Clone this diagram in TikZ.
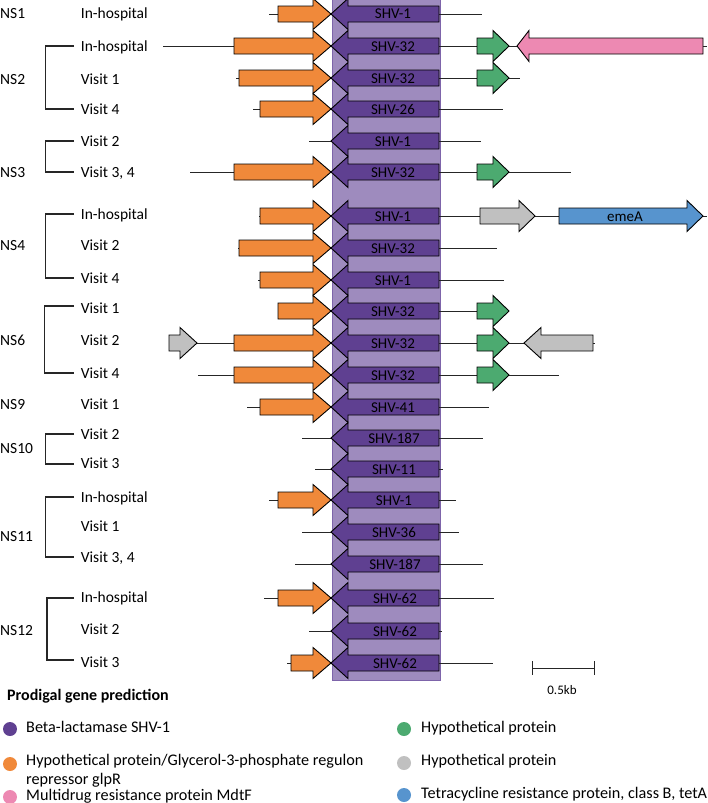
\documentclass[tikz,border=0pt]{standalone}
\usepackage{fontspec}
\setmainfont{Carlito}
\usepackage{tikz}
\usetikzlibrary{positioning,calc}
\definecolor{ShvPurple}{RGB}{95,64,145}
\definecolor{ShvBand}{RGB}{158,139,190}
\definecolor{BandEdge}{RGB}{125,100,170}
\definecolor{GlpOrange}{RGB}{240,137,58}
\definecolor{HypGreen}{RGB}{76,170,112}
\definecolor{HypGray}{RGB}{192,192,192}
\definecolor{MdtPink}{RGB}{237,137,178}
\definecolor{TetBlue}{RGB}{87,148,206}
\tikzset{
  gene/.style={draw=black,line width=0.9pt,line join=miter},
  shv/.style={gene,fill=ShvPurple},
  glp/.style={gene,fill=GlpOrange},
  hypg/.style={gene,fill=HypGreen},
  hypy/.style={gene,fill=HypGray},
  mdt/.style={gene,fill=MdtPink},
  tet/.style={gene,fill=TetBlue},
  bb/.style={draw=black!85,line width=0.9pt},
  brk/.style={draw=black!85,line width=1.1pt},
  lab/.style={inner sep=0pt,anchor=base west,font=\fontsize{15.5}{18}\selectfont},
  glab/.style={inner sep=0pt,anchor=base,font=\fontsize{15}{17}\selectfont},
  leg/.style={inner sep=0pt,anchor=base west,font=\fontsize{16.2}{19}\selectfont},
  dot/.style={circle,inner sep=0pt,minimum size=14pt},
}
% right-pointing gene: style, left end, head base, tip, row
\newcommand{\rgene}[5]{\draw[#1] (#2,#5-8) -- (#3,#5-8) -- (#3,#5-15.5) -- (#4,#5)
  -- (#3,#5+15.5) -- (#3,#5+8) -- (#2,#5+8) -- cycle;}
% left-pointing gene: style, tip, head base, right end, row
\newcommand{\lgene}[5]{\draw[#1] (#2,#5) -- (#3,#5-15.5) -- (#3,#5-8) -- (#4,#5-8)
  -- (#4,#5+8) -- (#3,#5+8) -- (#3,#5+15.5) -- cycle;}
\begin{document}
\begin{tikzpicture}[x=1pt,y=-1pt]
\useasboundingbox (0,0) rectangle (708,803);
% shaded SHV column
\filldraw[fill=ShvBand,draw=BandEdge,line width=0.8pt] (332.7,-2) rectangle (440.7,680);
% backbones
\draw[bb] (269,14) -- (482,14);
\draw[bb] (163,46) -- (707,46);
\draw[bb] (236,78) -- (520,78);
\draw[bb] (253,109) -- (503,109);
\draw[bb] (309,141) -- (481,141);
\draw[bb] (190,172) -- (571,172);
\draw[bb] (259,216) -- (707,216);
\draw[bb] (238,248) -- (497,248);
\draw[bb] (258,280) -- (504,280);
\draw[bb] (278,311) -- (509,311);
\draw[bb] (169,343) -- (595,343);
\draw[bb] (198,375) -- (559,375);
\draw[bb] (247,407) -- (489,407);
\draw[bb] (302,438) -- (483,438);
\draw[bb] (315,469) -- (443,469);
\draw[bb] (269,500) -- (456,500);
\draw[bb] (302,532) -- (459,532);
\draw[bb] (295,564) -- (483,564);
\draw[bb] (264,598) -- (494,598);
\draw[bb] (309,631) -- (442,631);
\draw[bb] (287,663) -- (493,663);
% glpR genes
\rgene{glp}{278}{313}{331}{14}
\rgene{glp}{234}{313}{331}{46}
\rgene{glp}{239}{313}{331}{78}
\rgene{glp}{260}{313}{331}{109}
\rgene{glp}{234}{313}{331}{172}
\rgene{glp}{260}{313}{331}{216}
\rgene{glp}{239}{313}{331}{248}
\rgene{glp}{260}{313}{331}{280}
\rgene{glp}{278}{313}{331}{311}
\rgene{glp}{234}{313}{331}{343}
\rgene{glp}{234}{313}{331}{375}
\rgene{glp}{260}{313}{331}{407}
\rgene{glp}{278}{313}{331}{500}
\rgene{glp}{278}{313}{331}{598}
\rgene{glp}{291}{313}{331}{663}
% SHV genes
\lgene{shv}{331}{348}{439}{14}
\lgene{shv}{331}{348}{439}{46}
\lgene{shv}{331}{348}{439}{78}
\lgene{shv}{331}{348}{439}{109}
\lgene{shv}{331}{348}{439}{141}
\lgene{shv}{331}{348}{439}{172}
\lgene{shv}{331}{348}{439}{216}
\lgene{shv}{331}{348}{439}{248}
\lgene{shv}{331}{348}{439}{280}
\lgene{shv}{331}{348}{439}{311}
\lgene{shv}{331}{348}{439}{343}
\lgene{shv}{331}{348}{439}{375}
\lgene{shv}{331}{348}{439}{407}
\lgene{shv}{331}{348}{439}{438}
\lgene{shv}{331}{348}{439}{469}
\lgene{shv}{331}{348}{439}{500}
\lgene{shv}{331}{348}{439}{532}
\lgene{shv}{331}{348}{439}{564}
\lgene{shv}{331}{348}{439}{598}
\lgene{shv}{331}{348}{439}{631}
\lgene{shv}{331}{348}{439}{663}
% other genes
\rgene{hypg}{477}{493}{509}{46}
\rgene{hypg}{477}{493}{509}{78}
\rgene{hypg}{477}{493}{509}{172}
\rgene{hypg}{477}{493}{509}{311}
\rgene{hypg}{477}{493}{509}{343}
\rgene{hypg}{477}{493}{509}{375}
\lgene{mdt}{517}{529}{703}{46}
\rgene{hypy}{480}{519}{535}{216}
\rgene{tet}{559}{687}{703}{216}
\rgene{hypy}{169}{180}{197}{343}
\lgene{hypy}{524}{541}{593}{343}
\node[glab] (eme) at (625,221) {emeA};
% SHV labels
\node[glab] (s1) at (393,19) {SHV-1};
\node[glab] (s2) at (393,51) {SHV-32};
\node[glab] (s3) at (393,83) {SHV-32};
\node[glab] (s4) at (393,114) {SHV-26};
\node[glab] (s5) at (393,146) {SHV-1};
\node[glab] (s6) at (393,177) {SHV-32};
\node[glab] (s7) at (393,221) {SHV-1};
\node[glab] (s8) at (393,253) {SHV-32};
\node[glab] (s9) at (393,285) {SHV-1};
\node[glab] (s10) at (393,316) {SHV-32};
\node[glab] (s11) at (393,348) {SHV-32};
\node[glab] (s12) at (393,380) {SHV-32};
\node[glab] (s13) at (393,412) {SHV-41};
\node[glab] (s14) at (394,443) {SHV-187};
\node[glab] (s15) at (394,474) {SHV-11};
\node[glab] (s16) at (394,505) {SHV-1};
\node[glab] (s17) at (394,537) {SHV-36};
\node[glab] (s18) at (395,569) {SHV-187};
\node[glab] (s19) at (395,603) {SHV-62};
\node[glab] (s20) at (395,636) {SHV-62};
\node[glab] (s21) at (395,668) {SHV-62};
% sample labels
\node[lab] (ns1) at (0,19) {NS1};
\node[lab] (ns2) at (0,84) {NS2};
\node[lab] (ns3) at (0,177) {NS3};
\node[lab] (ns4) at (0,250) {NS4};
\node[lab] (ns6) at (0,345) {NS6};
\node[lab] (ns9) at (0,409) {NS9};
\node[lab] (ns10) at (0,453) {NS10};
\node[lab] (ns11) at (0,541) {NS11};
\node[lab] (ns12) at (0,635) {NS12};
\node[lab] (r1) at (80.7,19) {In-hospital};
\node[lab] (r2) at (80.7,51) {In-hospital};
\node[lab] (r3) at (80.7,84) {Visit 1};
\node[lab] (r4) at (80.7,114) {Visit 4};
\node[lab] (r5) at (80.7,146) {Visit 2};
\node[lab] (r6) at (80.7,177) {Visit 3, 4};
\node[lab] (r7) at (80.7,219) {In-hospital};
\node[lab] (r8) at (80.7,250) {Visit 2};
\node[lab] (r9) at (80.7,283) {Visit 4};
\node[lab] (r10) at (80.7,313) {Visit 1};
\node[lab] (r11) at (80.7,345) {Visit 2};
\node[lab] (r12) at (80.7,378) {Visit 4};
\node[lab] (r13) at (80.7,409) {Visit 1};
\node[lab] (r14) at (80.7,439) {Visit 2};
\node[lab] (r15) at (80.7,468) {Visit 3};
\node[lab] (r16) at (80.7,502) {In-hospital};
\node[lab] (r17) at (80.7,531) {Visit 1};
\node[lab] (r18) at (80.7,562) {Visit 3, 4};
\node[lab] (r19) at (80.7,602) {In-hospital};
\node[lab] (r20) at (80.7,634) {Visit 2};
\node[lab] (r21) at (80.7,667) {Visit 3};
% brackets
\draw[brk] (74,46) -- (45.7,46) -- (45.7,109) -- (74,109);
\draw[brk] (74,141) -- (45.7,141) -- (45.7,172) -- (74,172);
\draw[brk] (74,214) -- (45.7,214) -- (45.7,278) -- (74,278);
\draw[brk] (74,306) -- (44.3,306) -- (44.3,373) -- (74,373);
\draw[brk] (74,434) -- (45.7,434) -- (45.7,464) -- (74,464);
\draw[brk] (74,497) -- (45.7,497) -- (45.7,557) -- (74,557);
\draw[brk] (74,598) -- (47,598) -- (47,660) -- (74,660);
% scale bar
\coordinate (sb1) at (532,668);
\coordinate (sb2) at (594,668);
\draw[bb] (sb1) -- (sb2);
\draw[bb] ($(sb1)+(0,-7)$) -- ($(sb1)+(0,7)$);
\draw[bb] ($(sb2)+(0,-7)$) -- ($(sb2)+(0,7)$);
\node[inner sep=0pt,anchor=base,font=\fontsize{13}{15}\selectfont] (kb) at (562,694) {0.5kb};
% legend
\node[leg,font=\bfseries\fontsize{16}{18}\selectfont] (lg) at (7,700) {Prodigal gene prediction};
\node[dot,fill=ShvPurple] (d1) at (10,729) {};
\node[leg] (l1) at (26,732) {Beta-lactamase SHV-1};
\node[dot,fill=GlpOrange] (d2) at (10,764) {};
\node[leg] (l2) at (26,765) {Hypothetical protein/Glycerol-3-phosphate regulon};
\node[leg] (l2b) at (26,784) {repressor glpR};
\node[dot,fill=MdtPink] (d3) at (10,797) {};
\node[leg] (l3) at (26,800) {Multidrug resistance protein MdtF};
\node[dot,fill=HypGreen] (d4) at (404,729) {};
\node[leg] (l4) at (421,732) {Hypothetical protein};
\node[dot,fill=HypGray] (d5) at (404,763) {};
\node[leg] (l5) at (421,765) {Hypothetical protein};
\node[dot,fill=TetBlue] (d6) at (404,795) {};
\node[leg] (l6) at (421,798) {Tetracycline resistance protein, class B, tetA};
\end{tikzpicture}
\end{document}
